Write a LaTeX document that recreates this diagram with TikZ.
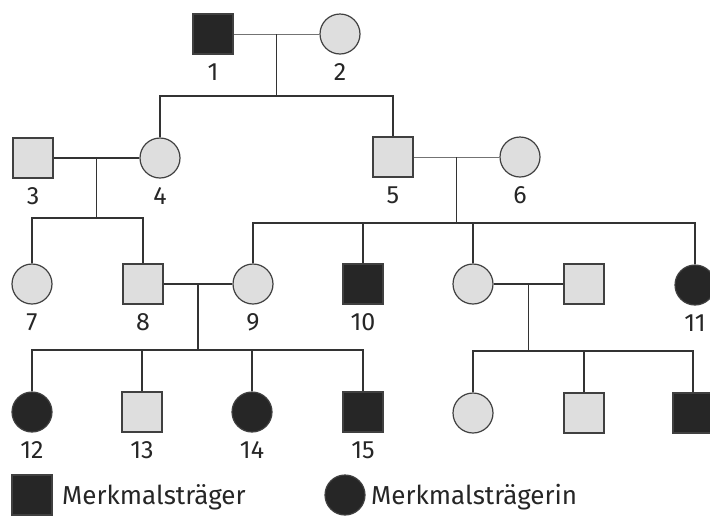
\documentclass[tikz,border=0pt]{standalone}
\usepackage{fontspec}
\setmainfont{Fira Sans}
\usetikzlibrary{calc}

\begin{document}
\begin{tikzpicture}[x=1pt,y=-1pt,
    male/.style={draw=black!75,line width=1.2pt,fill=black!13,minimum size=40pt,inner sep=0pt},
    female/.style={male,circle},
    affected/.style={fill=black!85},
    tie/.style={draw=black!80,line width=1.1pt},
    thintie/.style={draw=black!55,line width=0.7pt},
    every label/.style={font=\fontsize{25}{25}\selectfont,inner sep=0pt,text=black!85},
    label distance=9pt]
  \useasboundingbox (0,0) rectangle (710,515);
  % generation I
  \node[male,affected,label=below:1] (p1) at (213,34) {};
  \node[female,label=below:2] (p2) at (340,34) {};
  % generation II
  \node[male,label=below:3] (p3) at (33,158) {};
  \node[female,label=below:4] (p4) at (160,158) {};
  \node[male,label=below:5] (p5) at (393,157) {};
  \node[female,label=below:6] (p6) at (520,157) {};
  % generation III
  \node[female,label=below:7] (p7) at (32,284) {};
  \node[male,label=below:8] (p8) at (143,284) {};
  \node[female,label=below:9] (p9) at (253,284) {};
  \node[male,affected,label=below:10] (p10) at (363,284) {};
  \node[female] (pa) at (473,284) {};
  \node[male] (pb) at (584,284) {};
  \node[female,affected,label=below:11] (p11) at (695,285) {};
  % generation IV
  \node[female,affected,label=below:12] (p12) at (32,412) {};
  \node[male,label=below:13] (p13) at (142,412) {};
  \node[female,affected,label=below:14] (p14) at (252,412) {};
  \node[male,affected,label=below:15] (p15) at (363,412) {};
  \node[female] (pc) at (473,413) {};
  \node[male] (pd) at (584,413) {};
  \node[male,affected] (pe) at (693,413) {};

  % couples and children
  \draw[thintie] (p1) -- (p2);
  \coordinate (m12) at ($(p1)!0.5!(p2)$);
  \draw[tie] (m12) -- ++(0,62) coordinate (s12);
  \draw[tie] (p4.north) |- (s12) -| (p5.north);

  \draw[tie] (p3) -- (p4);
  \coordinate (m34) at ($(p3)!0.5!(p4)$);
  \draw[tie] (m34) -- ++(0,60) coordinate (s34);
  \draw[tie] (p7.north) |- (s34) -| (p8.north);

  \draw[thintie] (p5) -- (p6);
  \coordinate (m56) at ($(p5)!0.5!(p6)$);
  \draw[tie] (m56) -- ++(0,66) coordinate (s56);
  \draw[tie] (p9.north) |- (s56) -| (p11.north);
  \foreach \c in {p10,pa}
    \draw[tie] (\c.north) -- (\c.north |- s56);

  \draw[tie] (p8) -- (p9);
  \coordinate (m89) at ($(p8)!0.5!(p9)$);
  \draw[tie] (m89) -- ++(0,66) coordinate (s89);
  \draw[tie] (p12.north) |- (s89) -| (p15.north);
  \foreach \c in {p13,p14}
    \draw[tie] (\c.north) -- (\c.north |- s89);

  \draw[tie] (pa) -- (pb);
  \coordinate (mab) at ($(pa)!0.5!(pb)$);
  \draw[tie] (mab) -- ++(0,67) coordinate (sab);
  \draw[tie] (pc.north) |- (sab) -| (pe.north);
  \draw[tie] (pd.north) -- (pd.north |- sab);

  % key
  \node[male,affected] (keym) at (32,495) {};
  \node[anchor=west,font=\fontsize{26}{26}\selectfont,text=black!85,inner sep=0pt] (keymt) at (62,497) {Merkmalsträger};
  \node[female,affected] (keyf) at (345,495) {};
  \node[anchor=west,font=\fontsize{26}{26}\selectfont,text=black!85,inner sep=0pt] (keyft) at (371,497) {Merkmalsträgerin};
\end{tikzpicture}
\end{document}
